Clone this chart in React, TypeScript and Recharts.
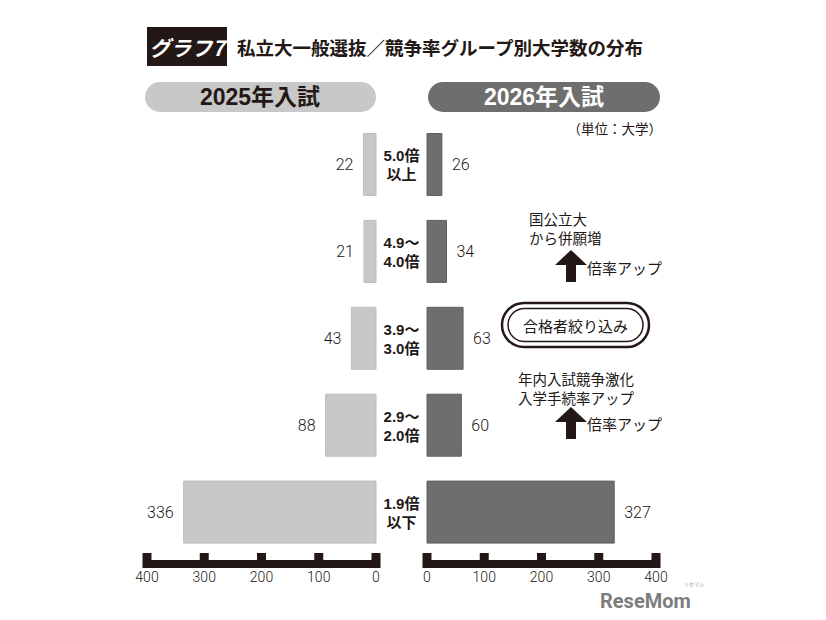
import React from 'react';
import { BarChart, Bar, XAxis, YAxis, LabelList } from 'recharts';

const categories = ['5.0倍\n以上', '4.9〜\n4.0倍', '3.9〜\n3.0倍', '2.9〜\n2.0倍', '1.9倍\n以下'];
const values2025 = [22, 21, 43, 88, 336];
const values2026 = [26, 34, 63, 60, 327];
const axisTicks = [0, 100, 200, 300, 400];

const data = categories.map((c, i) => ({ cat: c, v2025: values2025[i], v2026: values2026[i] }));

const INK = '#231815';
const LIGHT = '#c8c8c8';
const DARK = '#6e6e6e';
const NUM_FONT = 'Roboto, "Liberation Sans", sans-serif';
const JP_FONT = '"Noto Sans CJK JP", "Noto Sans", sans-serif';
const BOLD_FONT = '"Liberation Sans", "Noto Sans CJK JP", sans-serif';

const AxisTick = (props: any) => {
  const { x, y, payload } = props;
  return (
    <g>
      <rect x={x - 4.5} y={y - 11} width={9} height={15} fill={INK} />
      <text x={x} y={y + 18} textAnchor="middle" fontSize={14} fontFamily={NUM_FONT} fontWeight={300} fill={INK}>
        {payload.value}
      </text>
    </g>
  );
};

const CatTick = (props: any) => {
  const { x, y, payload } = props;
  const lines = String(payload.value).split('\n');
  return (
    <g>
      {lines.map((l, i) => (
        <text key={i} x={x + 25.5} y={y + (i - (lines.length - 1) / 2) * 19} textAnchor="middle" dominantBaseline="central"
          fontSize={15} fontWeight={700} fontFamily={BOLD_FONT} fill={INK}>
          {l}
        </text>
      ))}
    </g>
  );
};

const LeftLabel = (props: any) => {
  const { x, y, width, height, value } = props;
  const left = Math.min(x, x + width);
  return (
    <text x={left - 10} y={y + height / 2} textAnchor="end" dominantBaseline="central" fontSize={16}
      fontFamily={NUM_FONT} fontWeight={300} fill={INK}>
      {value}
    </text>
  );
};

const RightLabel = (props: any) => {
  const { x, y, width, height, value } = props;
  const right = Math.max(x, x + width);
  return (
    <text x={right + 10} y={y + height / 2} textAnchor="start" dominantBaseline="central" fontSize={16}
      fontFamily={NUM_FONT} fontWeight={300} fill={INK}>
      {value}
    </text>
  );
};

const Arrow = ({ cx, top }: { cx: number; top: number }) => (
  <path
    d={`M${cx} ${top} L${cx + 16} ${top + 15} L${cx + 5} ${top + 15} L${cx + 5} ${top + 32} L${cx - 5} ${top + 32} L${cx - 5} ${top + 15} L${cx - 16} ${top + 15} Z`}
    fill={INK}
  />
);

export default function App() {
  return (
    <div style={{ position: 'absolute', left: 0, top: 0, width: 826, height: 620, background: '#fff', overflow: 'hidden' }}>
      <div style={{ position: 'absolute', left: 0, top: 0 }}>
        <BarChart width={427} height={620} data={data} layout="vertical" barSize={62}
          margin={{ top: 121.5, right: 0, bottom: 0, left: 147 }}>
          <XAxis type="number" domain={[0, 400]} ticks={axisTicks} reversed height={56}
            tickSize={0} tickMargin={0} tick={<AxisTick />} interval={0}
            axisLine={{ stroke: INK, strokeWidth: 8 }} tickLine={false} />
          <YAxis type="category" dataKey="cat" orientation="right" width={51}
            padding={{ top: 0, bottom: 8 }} axisLine={false} tickLine={false}
            tickSize={0} tickMargin={0} tick={<CatTick />} interval={0} />
          <Bar dataKey="v2025" fill={LIGHT} stroke="#bdbdbd" strokeWidth={1} isAnimationActive={false}>
            <LabelList dataKey="v2025" content={<LeftLabel />} />
          </Bar>
        </BarChart>
      </div>
      <div style={{ position: 'absolute', left: 400, top: 0 }}>
        <BarChart width={426} height={620} data={data} layout="vertical" barSize={62}
          margin={{ top: 121.5, right: 170, bottom: 0, left: 27 }}>
          <XAxis type="number" domain={[0, 400]} ticks={axisTicks} height={56}
            tickSize={0} tickMargin={0} tick={<AxisTick />} interval={0}
            axisLine={{ stroke: INK, strokeWidth: 8 }} tickLine={false} />
          <YAxis type="category" dataKey="cat" hide padding={{ top: 0, bottom: 8 }} />
          <Bar dataKey="v2026" fill={DARK} stroke="#5f5f5f" strokeWidth={1} isAnimationActive={false}>
            <LabelList dataKey="v2026" content={<RightLabel />} />
          </Bar>
        </BarChart>
      </div>
      <svg width={826} height={620} style={{ position: 'absolute', left: 0, top: 0, pointerEvents: 'none' }}>
        <rect x={147} y={27} width={80} height={39} fill={INK} />
        <text x={187} y={47} textAnchor="middle" dominantBaseline="central" fill="#fff" fontSize={21}
          fontWeight={700} fontStyle="italic" fontFamily={JP_FONT}>グラフ7</text>
        <text x={237} y={47} dominantBaseline="central" fill={INK} fontSize={18.5} fontWeight={700}
          fontFamily={JP_FONT}>私立大一般選抜／競争率グループ別大学数の分布</text>

        <rect x={145} y={82} width={231} height={30} rx={15} fill={LIGHT} />
        <text x={260} y={97} textAnchor="middle" dominantBaseline="central" fill={INK} fontSize={23}
          fontWeight={700} fontFamily={BOLD_FONT}>2025年入試</text>
        <rect x={428} y={82} width={232} height={30} rx={15} fill={DARK} />
        <text x={544} y={97} textAnchor="middle" dominantBaseline="central" fill="#fff" fontSize={23}
          fontWeight={700} fontFamily={BOLD_FONT}>2026年入試</text>
        <text x={662} y={128} textAnchor="end" dominantBaseline="central" fill={INK} fontSize={13.5}
          fontFamily={JP_FONT}>（単位：大学）</text>

        <text x={529} y={218} dominantBaseline="central" fill={INK} fontSize={14.5} fontFamily={JP_FONT}>国公立大</text>
        <text x={529} y={237} dominantBaseline="central" fill={INK} fontSize={14.5} fontFamily={JP_FONT}>から併願増</text>
        <Arrow cx={571} top={250} />
        <text x={587} y={267} dominantBaseline="central" fill={INK} fontSize={15} fontFamily={JP_FONT}>倍率アップ</text>

        <rect x={502} y={303} width={147} height={44} rx={22} fill="none" stroke={INK} strokeWidth={2.5} />
        <rect x={508} y={308.5} width={135} height={33} rx={16.5} fill="none" stroke={INK} strokeWidth={1.5} />
        <text x={575.5} y={325} textAnchor="middle" dominantBaseline="central" fill={INK} fontSize={15}
          fontFamily={JP_FONT}>合格者絞り込み</text>

        <text x={518} y={378} dominantBaseline="central" fill={INK} fontSize={14.5} fontFamily={JP_FONT}>年内入試競争激化</text>
        <text x={518} y={397} dominantBaseline="central" fill={INK} fontSize={14.5} fontFamily={JP_FONT}>入学手続率アップ</text>
        <Arrow cx={571} top={407} />
        <text x={587} y={423} dominantBaseline="central" fill={INK} fontSize={15} fontFamily={JP_FONT}>倍率アップ</text>

        <text x={600} y={608} fill="#7d7d7d" fontSize={20} fontWeight={700} fontFamily={NUM_FONT}>ReseMom</text>
        <text x={684} y={586} fill="#9a9a9a" fontSize={5} fontFamily={JP_FONT}>リセマム</text>
      </svg>
    </div>
  );
}
